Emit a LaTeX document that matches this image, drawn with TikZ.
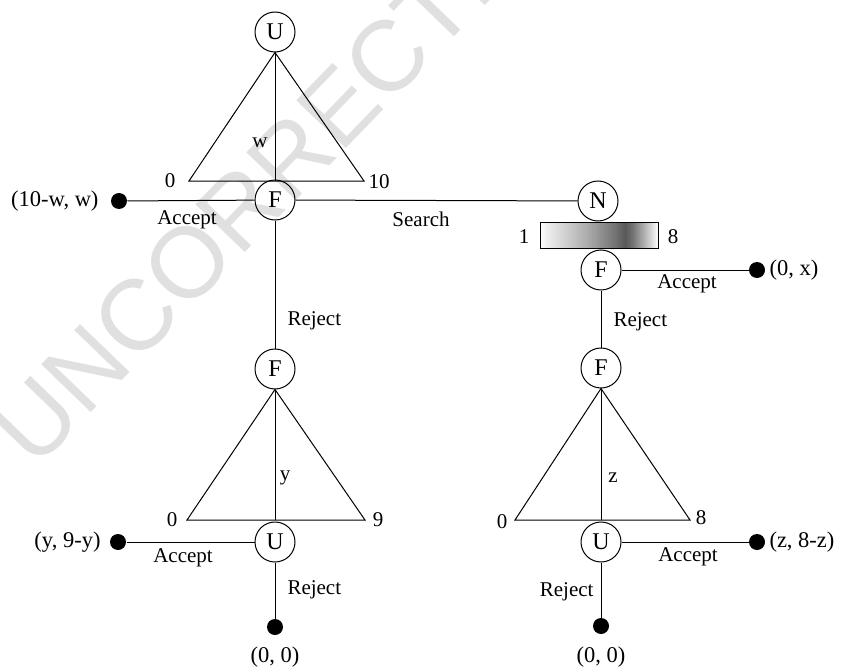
\documentclass[tikz,border=0pt]{standalone}
\usepackage{fontspec}
\setmainfont{Liberation Serif}
\newfontfamily\wmfont{Liberation Sans}
\usetikzlibrary{fadings}
\pgfdeclarehorizontalshading{barshade}{100bp}{color(0bp)=(white); color(25bp)=(white); color(28bp)=(black!10); color(45bp)=(black!50); color(57bp)=(black!85); color(61bp)=(black); color(64bp)=(black!85); color(70bp)=(black!40); color(75bp)=(white); color(100bp)=(white)}
\tikzfading[name=vfade, top color=transparent!65, middle color=transparent!100, bottom color=transparent!65]
\begin{document}
\begin{tikzpicture}[x=1pt,y=-1pt, line width=1pt,
  every node/.style={font=\fontsize{21}{25}\selectfont},
  player/.style={draw, circle, minimum size=40pt, inner sep=0pt, font=\fontsize{24}{28}\selectfont},
  term/.style={circle, fill=black, minimum size=16pt, inner sep=0pt},
  lbl/.style={inner sep=0pt},
  pay/.style={inner sep=0pt, font=\fontsize{22.5}{27}\selectfont}]
\useasboundingbox (0,0) rectangle (841,669);
% watermark
\node[rotate=46, anchor=base west, text=black!12, inner sep=0pt,
  font=\wmfont\fontsize{100}{100}\selectfont] (wm) at (35,471) {UNCORRECTED PROOF};

% ---- top subtree
\node[player] (U1) at (275,32) {U};
\node[player] (F1) at (275,200) {F};
\coordinate (T1L) at (189,181);
\coordinate (T1R) at (364,181);
\coordinate (T1M) at (275,181);
\draw (U1.south) -- (T1L) -- (T1R) -- cycle;
\draw (U1.south) -- (T1M);
\node[lbl] (w) at (260,143) {w};
\node[lbl] (z1) at (170,181) {0};
\node[lbl] (t1) at (379,182) {10};
\node[term] (A1) at (119,201) {};
\node[pay, anchor=east] (A1t) at (99,201) {(10-w, w)};
\draw (A1) -- (F1);
\node[lbl] (acc1) at (187,220) {Accept};

% ---- search to N
\node[player] (N) at (598,201) {N};
\draw (F1) -- (N);
\node[lbl] (srch) at (421,219) {Search};
\shade[shading=barshade] (540,222) rectangle (658,248);
\fill[white, path fading=vfade] (540,222) rectangle (658,248);
\node[draw, minimum width=118pt, minimum height=26pt, inner sep=0pt, line width=0.8pt] (bar) at (599,235) {};
\node[lbl] (b1) at (524,237) {1};
\node[lbl] (b8) at (673,237) {8};

% ---- right branch
\node[player] (F2) at (601,270) {F};
\node[term] (A2) at (757,270) {};
\node[pay, anchor=west] (A2t) at (769,270) {(0, x)};
\draw (F2) -- (A2);
\node[lbl] (acc2) at (687,284) {Accept};
\node[player] (F3) at (601,368) {F};
\draw (F2) -- (F3);
\node[lbl, anchor=west] (rej2) at (613,322) {Reject};
\coordinate (T3L) at (515,520);
\coordinate (T3R) at (690,520);
\coordinate (T3M) at (601,520);
\draw (F3.south) -- (T3L) -- (T3R) -- cycle;
\draw (F3.south) -- (T3M);
\node[lbl] (zl) at (613,478) {z};
\node[lbl] (z3) at (502,522) {0};
\node[lbl] (e3) at (701,518) {8};
\node[player] (U3) at (601,542) {U};
\node[term] (A3) at (757,542) {};
\node[pay, anchor=west] (A3t) at (769,542) {(z, 8-z)};
\draw (U3) -- (A3);
\node[lbl] (acc3) at (688,557) {Accept};
\node[term] (R3) at (601,626) {};
\draw (U3) -- (R3);
\node[lbl, anchor=east] (rej3) at (594,592) {Reject};
\node[pay] (R3t) at (601,657) {(0, 0)};

% ---- left branch
\node[player] (F4) at (275,369) {F};
\draw (F1) -- (F4);
\node[lbl, anchor=west] (rej1) at (287,321) {Reject};
\coordinate (T2L) at (187,520);
\coordinate (T2R) at (365,520);
\coordinate (T2M) at (275,520);
\draw (F4.south) -- (T2L) -- (T2R) -- cycle;
\draw (F4.south) -- (T2M);
\node[lbl] (yl) at (285,478) {y};
\node[lbl] (z2) at (172,520) {0};
\node[lbl] (n2) at (378,520) {9};
\node[player] (U2) at (275,542) {U};
\node[term] (A4) at (118,542) {};
\node[pay, anchor=east] (A4t) at (101,542) {(y, 9-y)};
\draw (U2) -- (A4);
\node[lbl] (acc4) at (183,558) {Accept};
\node[term] (R2) at (275,627) {};
\draw (U2) -- (R2);
\node[lbl, anchor=west] (rej4) at (287,590) {Reject};
\node[pay] (R2t) at (275,657) {(0, 0)};
\end{tikzpicture}
\end{document}
